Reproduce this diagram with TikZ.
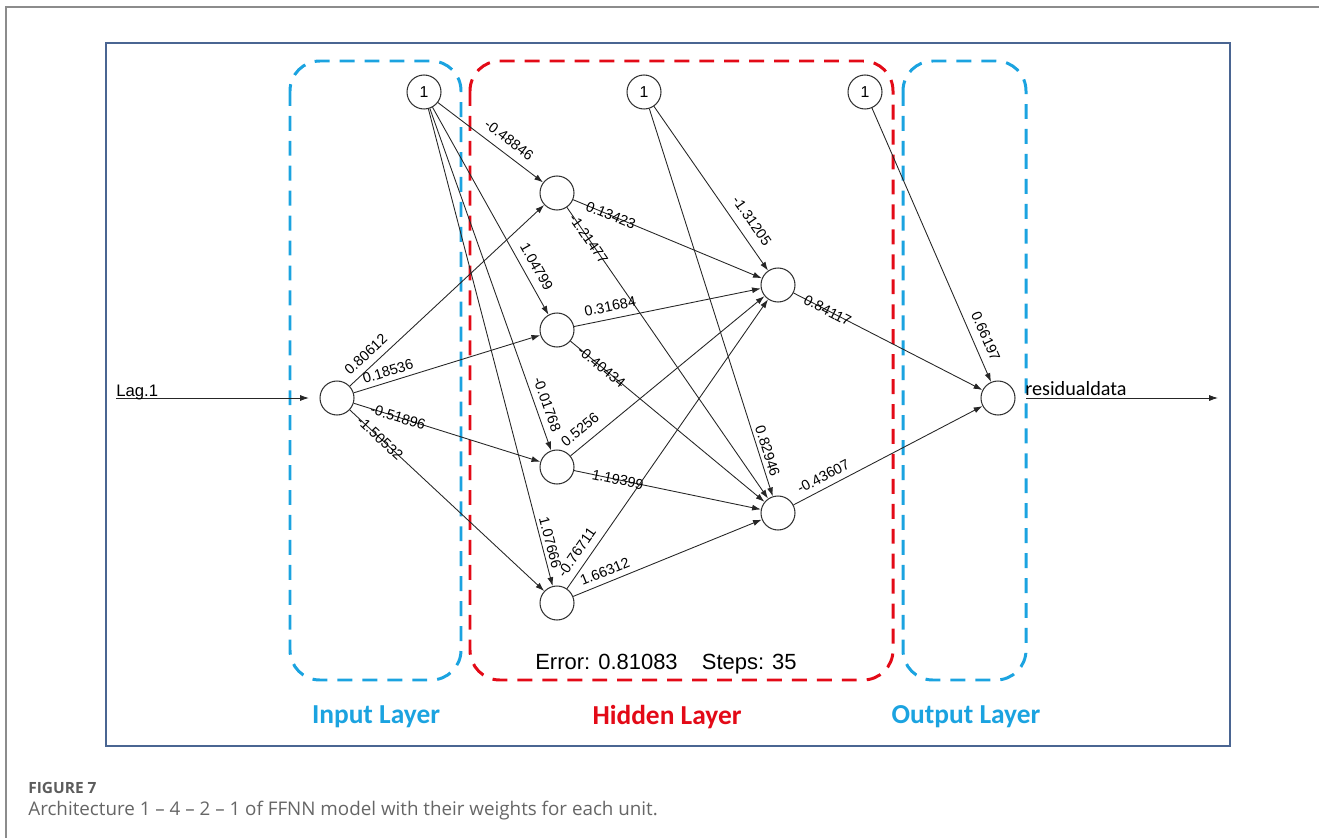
\documentclass[tikz,border=0pt]{standalone}
\usepackage{fontspec}
\usetikzlibrary{arrows.meta}
\newfontfamily\arialfont{Liberation Sans}
\newfontfamily\calibrifont{Carlito}
\newfontfamily\capfont{Open Sans}
\definecolor{framecol}{HTML}{4A6592}
\definecolor{laycyan}{HTML}{1BA3E0}
\definecolor{layred}{HTML}{E30A17}
\definecolor{pagegray}{HTML}{8C8C8C}
\definecolor{capgray}{HTML}{666666}
\tikzset{
  unit/.style={circle, draw=black!80, line width=0.6pt, minimum size=0.68cm, inner sep=0pt,
    font=\arialfont\fontsize{9}{10}\selectfont},
  conn/.style={->, draw=black!85, line width=0.5pt},
  wt/.style={sloped, inner sep=0.5pt, font=\arialfont\fontsize{8.2}{9}\selectfont},
  layerbox/.style={line width=1.7pt, dash pattern=on 8.5pt off 5.7pt, rounded corners=17pt},
  layername/.style={font=\calibrifont\bfseries\fontsize{15.6}{17}\selectfont}
}
\begin{document}
\begin{tikzpicture}[x=0.02cm,y=-0.02cm]
\useasboundingbox (0,0) rectangle (1319,838);
\tikzset{>={Latex[length=5pt,width=3.4pt]}}
\draw[pagegray, line width=1.1pt] (6,838) -- (6,7) -- (1319,7);
\draw[framecol, line width=1.4pt] (106,43) rectangle (1230,746);

\draw[layerbox, laycyan] (290,61) rectangle (461,680);
\draw[layerbox, layred] (470,61) rectangle (893,680);
\draw[layerbox, laycyan] (903,61) rectangle (1026,680);

\node[unit] (in) at (337,398) {};
\node[unit] (b1) at (424,92) {1};
\node[unit] (h1) at (557,193) {};
\node[unit] (h2) at (557,330) {};
\node[unit] (h3) at (557,467) {};
\node[unit] (h4) at (557,603) {};
\node[unit] (b2) at (644,92) {1};
\node[unit] (j1) at (778,285) {};
\node[unit] (j2) at (778,513) {};
\node[unit] (b3) at (865,92) {1};
\node[unit] (out) at (998,398) {};

\coordinate (lagstart) at (116,398);
\coordinate (resend) at (1218,398);
\draw[conn, shorten >=6pt] (lagstart) -- (in);
\node[anchor=base west, inner sep=0pt, font=\arialfont\fontsize{9.5}{10}\selectfont] (lag) at (116,396) {Lag.1};
\draw[conn, shorten <=6pt] (out) -- (resend);
\node[anchor=base west, inner sep=0pt, font=\calibrifont\fontsize{11.5}{12}\selectfont] (res) at (1025,395) {residualdata};

\draw[conn] (in) -- (h1) node[wt, pos=0.125, above=3.3pt] {0.80612};
\draw[conn] (in) -- (h2) node[wt, pos=0.2, above=2.3pt] {0.18536};
\draw[conn] (in) -- (h3) node[wt, pos=0.237] {-0.51896};
\draw[conn] (in) -- (h4) node[wt, pos=0.155] {-1.50532};

\draw[conn] (b1) -- (h1) node[wt, pos=0.6, above=4pt] {-0.48846};
\draw[conn] (b1) -- (h2) node[wt, pos=0.8, above=3.8pt] {1.04799};
\draw[conn] (b1) -- (h3) node[wt, pos=0.877, above=3pt] {-0.01768};
\draw[conn] (b1) -- (h4) node[wt, pos=0.914, above=1.3pt] {1.07666};

\draw[conn] (h1) -- (j1) node[wt, pos=0.2] {0.13423};
\draw[conn] (h1) -- (j2) node[wt, pos=0.108] {-1.21477};
\draw[conn] (h2) -- (j1) node[wt, pos=0.206, above=3.4pt] {0.31684};
\draw[conn] (h2) -- (j2) node[wt, pos=0.16] {-0.40434};
\draw[conn] (h3) -- (j1) node[wt, pos=0.096, above=4.6pt] {0.5256};
\draw[conn] (h3) -- (j2) node[wt, pos=0.234] {1.19399};
\draw[conn] (h4) -- (j1) node[wt, pos=0.1, above=3.6pt] {-0.76711};
\draw[conn] (h4) -- (j2) node[wt, pos=0.19, above=2.7pt] {1.66312};

\draw[conn] (b2) -- (j1) node[wt, pos=0.75, above=5pt] {-1.31205};
\draw[conn] (b2) -- (j2) node[wt, pos=0.89, above=1.4pt] {0.82946};

\draw[conn] (j1) -- (out) node[wt, pos=0.18] {0.84117};
\draw[conn] (j2) -- (out) node[wt, pos=0.185, above=2.9pt] {-0.43607};
\draw[conn] (b3) -- (out) node[wt, pos=0.853, above=4pt] {0.66197};

\node[font=\arialfont\fontsize{12.5}{14}\selectfont] (err) at (666,664) {Error: 0.81083\hspace{1.1em}Steps: 35};

\node[layername, laycyan] (inlab) at (376,717) {Input Layer};
\node[layername, layred] (hidlab) at (667,717) {Hidden Layer};
\node[layername, laycyan] (outlab) at (966,717) {Output Layer};

\node[anchor=west, inner sep=0pt, capgray!90!black, font=\capfont\bfseries\fontsize{8.8}{10}\selectfont] (fig) at (28,788) {FIGURE 7};
\node[anchor=west, inner sep=0pt, capgray, font=\capfont\fontsize{10.7}{12}\selectfont] (cap) at (28,811) {Architecture 1 – 4 – 2 – 1 of FFNN model with their weights for each unit.};
\end{tikzpicture}
\end{document}
